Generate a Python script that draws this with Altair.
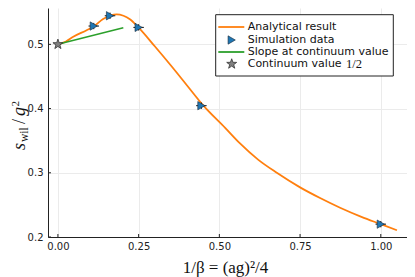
import altair as alt
import pandas as pd

# Analytical curve
curve_x = [0, 0.025, 0.0475, 0.089, 0.1127, 0.14, 0.1614, 0.182, 0.203, 0.223, 0.25,
           0.30, 0.35, 0.40, 0.45, 0.518, 0.564, 0.62, 0.678, 0.75, 0.812, 0.874,
           0.94, 1.0, 1.05]
curve_y = [0.5, 0.5045, 0.5118, 0.522, 0.5285, 0.5395, 0.5445, 0.5467, 0.5445, 0.539, 0.526,
           0.497, 0.467, 0.436, 0.405, 0.370, 0.3457, 0.3205, 0.300, 0.2773, 0.2607, 0.2456,
           0.2314, 0.220, 0.2105]

# Simulation data
sim_x = [0.1111, 0.1614, 0.25, 0.4444, 1.0]
sim_y = [0.5285, 0.5445, 0.5264, 0.4045, 0.220]

# Slope at continuum value
slope_x = [0.0, 0.2025]
slope_y = [0.5, 0.526]

# Continuum value
cont_x = [0.0]
cont_y = [0.5]

x_ticks = [0.0, 0.25, 0.5, 0.75, 1.0]
y_ticks = [0.2, 0.3, 0.4, 0.5]

legend_labels = ["Analytical result", "Simulation data", "Slope at continuum value", "Continuum value"]

W, H = 359, 229
XDOM = [-0.0307, 1.0812]
YDOM = [0.2, 0.5566]

ORANGE = "#ff7f0e"
BLUE = "#1f77b4"
GREEN = "#2ca02c"
GRAY = "#808080"
STAR = ("M0,-1L0.235,-0.324L0.951,-0.309L0.380,0.124L0.588,0.809L0,0.4"
        "L-0.588,0.809L-0.380,0.124L-0.951,-0.309L-0.235,-0.324Z")
CROSS = "M-1,0H1M0,-0.6V0.6"

xs = alt.Scale(domain=XDOM, nice=False, zero=False)
ys = alt.Scale(domain=YDOM, nice=False, zero=False)

xaxis = alt.Axis(values=x_ticks, format=".2f", title=None, grid=True, ticks=False,
                 labelPadding=4, labelFontSize=10, labelFont="DejaVu Sans",
                 labelColor="#222", domainColor="#222", gridColor="#ebebeb")
yaxis = alt.Axis(values=y_ticks, format=".1f", title=None, grid=True, ticks=False,
                 labelPadding=5, labelFontSize=10, labelFont="DejaVu Sans",
                 labelColor="#222", domainColor="#222", gridColor="#ebebeb")

curve_df = pd.DataFrame({"x": curve_x, "y": curve_y})
sim_df = pd.DataFrame({"x": sim_x, "y": sim_y})
slope_df = pd.DataFrame({"x": slope_x, "y": slope_y})
cont_df = pd.DataFrame({"x": cont_x, "y": cont_y})
xt_df = pd.DataFrame({"t": x_ticks})
yt_df = pd.DataFrame({"t": y_ticks})
one = pd.DataFrame({"a": [0]})

curve = alt.Chart(curve_df).mark_line(color=ORANGE, strokeWidth=1.8, interpolate="monotone").encode(
    x=alt.X("x:Q", scale=xs, axis=xaxis), y=alt.Y("y:Q", scale=ys, axis=yaxis))

slope = alt.Chart(slope_df).mark_line(color=GREEN, strokeWidth=1.6).encode(
    x=alt.X("x:Q", scale=xs), y=alt.Y("y:Q", scale=ys))

cross = alt.Chart(sim_df).mark_point(shape=CROSS, filled=False, stroke="#111", strokeWidth=1,
                                     size=110, opacity=1).encode(
    x=alt.X("x:Q", scale=xs), y=alt.Y("y:Q", scale=ys))

sim = alt.Chart(sim_df).mark_point(shape="triangle-right", filled=True, fill=BLUE, stroke="#1a2a3a",
                                   strokeWidth=0.6, size=70, opacity=1).encode(
    x=alt.X("x:Q", scale=xs), y=alt.Y("y:Q", scale=ys))

cont = alt.Chart(cont_df).mark_point(shape=STAR, filled=True, fill=GRAY, stroke="#333",
                                     strokeWidth=0.8, size=110, opacity=1).encode(
    x=alt.X("x:Q", scale=xs), y=alt.Y("y:Q", scale=ys))

xticks = alt.Chart(xt_df).mark_rule(color="#222", strokeWidth=1).encode(
    x=alt.X("t:Q", scale=xs), y=alt.value(H), y2=alt.value(H - 3))
yticks = alt.Chart(yt_df).mark_rule(color="#222", strokeWidth=1).encode(
    y=alt.Y("t:Q", scale=ys), x=alt.value(0), x2=alt.value(3))

# Legend (drawn by hand)
LX0, LX1, LY0, LY1 = 167.7, 345.3, 6.7, 68
rows = [19, 32, 44, 56]
leg_box = alt.Chart(one).mark_rect(fill="white", stroke="#222", strokeWidth=1).encode(
    x=alt.value(LX0), x2=alt.value(LX1), y=alt.value(LY0), y2=alt.value(LY1))
leg_l1 = alt.Chart(one).mark_rule(color=ORANGE, strokeWidth=1.8).encode(
    x=alt.value(170.3), x2=alt.value(196.3), y=alt.value(rows[0]))
leg_l2 = alt.Chart(one).mark_point(shape="triangle-right", filled=True, fill=BLUE, stroke="#1a2a3a",
                                   strokeWidth=0.6, size=70, opacity=1).encode(
    x=alt.value(183.7), y=alt.value(rows[1]))
leg_l3 = alt.Chart(one).mark_rule(color=GREEN, strokeWidth=1.8).encode(
    x=alt.value(170.3), x2=alt.value(196.3), y=alt.value(rows[2]))
leg_l4 = alt.Chart(one).mark_point(shape=STAR, filled=True, fill=GRAY, stroke="#333",
                                   strokeWidth=0.8, size=110, opacity=1).encode(
    x=alt.value(183.7), y=alt.value(rows[3]))
leg_texts = []
for lab, r in zip(legend_labels, rows):
    leg_texts.append(alt.Chart(one).mark_text(text=lab, align="left", baseline="middle",
                                              font="DejaVu Sans", fontSize=11, color="#111").encode(
        x=alt.value(199.7), y=alt.value(r)))
leg_half = alt.Chart(one).mark_text(text="1/2", align="left", baseline="middle",
                                    font="Liberation Serif", fontSize=12.5, color="#111").encode(
    x=alt.value(298), y=alt.value(rows[3]))

# Axis titles (math-like)
xtitle = alt.Chart(one).mark_text(text="1/β = (ag)²/4", align="center", baseline="alphabetic",
                                  font="Liberation Serif", fontSize=17, color="#111").encode(
    x=alt.value(177.5), y=alt.value(265))

yparts = [
    ("s", 0, 0, 18, "italic"),
    ("wil", 8, 3, 11.5, "normal"),
    ("/", 26, 0, 18, "normal"),
    ("g", 34, 0, 18, "italic"),
    ("2", 43.5, -6.5, 11, "normal"),
]
ytitle = []
for txt, dx, dy, fs, st in yparts:
    ytitle.append(alt.Chart(one).mark_text(text=txt, align="left", baseline="alphabetic", angle=270,
                                           dx=dx, dy=dy, font="Liberation Serif", fontSize=fs,
                                           fontStyle=st, color="#111").encode(
        x=alt.value(-23), y=alt.value(142)))

chart = alt.layer(
    curve, slope, cross, sim, cont, xticks, yticks,
    leg_box, leg_l1, leg_l2, leg_l3, leg_l4, *leg_texts, leg_half,
    xtitle, *ytitle
).properties(
    width=W, height=H,
    autosize=alt.AutoSizeParams(type="none"),
    padding={"left": 40, "top": 0, "right": 0, "bottom": 40},
    background="white",
).configure_view(stroke=None)

chart.save("out.html", embed_options={"renderer": "svg", "actions": False})
